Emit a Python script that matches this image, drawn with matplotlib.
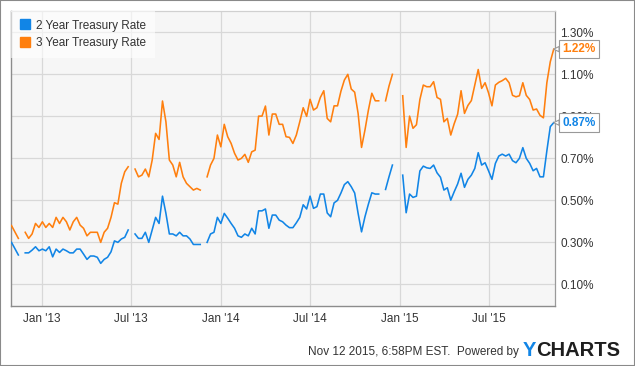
import matplotlib
matplotlib.use('Agg')
import matplotlib.pyplot as plt
import numpy as np
import pandas as pd
from matplotlib.lines import Line2D
from matplotlib.patches import Rectangle

nan = np.nan

# ---------------- data (weekly) ----------------
start_date = '2012-10-31'

series_names = ['2 Year Treasury Rate', '3 Year Treasury Rate']

two_year = [
    0.30, 0.27, 0.24, nan,
    0.25, 0.25, 0.263, 0.279, 0.26, 0.268, 0.26, 0.279, 0.231, 0.268,
    0.252, 0.268, 0.26, 0.25, 0.25, 0.268, 0.268, 0.244, 0.219, 0.235,
    0.235, 0.229, 0.20, 0.219, 0.229, 0.255, 0.307, 0.30, 0.316, 0.324, 0.359,
    nan,
    0.34, 0.319, 0.319, 0.348, 0.30, 0.359, 0.419, 0.39, 0.52, 0.438,
    0.34, 0.34, 0.331, 0.348, 0.331, 0.331, 0.316, 0.29, 0.29, 0.29,
    nan,
    0.30, 0.34, 0.348, 0.419, 0.39, 0.438, 0.415, 0.39, 0.367, 0.331,
    0.324, 0.34, 0.331, 0.367, 0.34, 0.45, 0.45, 0.459, 0.367, 0.43,
    0.43, 0.406, 0.398, 0.382, 0.37, 0.37, 0.393, 0.419, 0.479, 0.459,
    0.52, 0.462, 0.47, 0.53, 0.53, 0.44, 0.422, 0.488, 0.50, 0.535,
    0.575, 0.589, 0.565, 0.535, 0.438, 0.35, 0.422, 0.482, 0.536, 0.53, 0.53,
    nan,
    0.552, 0.612, 0.668,
    nan, nan,
    0.62, 0.441, 0.53, 0.514, 0.52, 0.64, 0.663, 0.655, 0.652, 0.668,
    0.631, 0.61, 0.549, 0.56, 0.501, 0.541, 0.578, 0.629, 0.562, 0.60,
    0.62, 0.652, 0.727, 0.668, 0.679, 0.641, 0.60, 0.676, 0.711, 0.72,
    0.711, 0.72, 0.689, 0.679, 0.70, 0.751, 0.70, 0.676, 0.641, 0.652,
    0.612, 0.612, 0.736, 0.851, 0.87,
]

three_year = [
    0.38, 0.35, 0.319, nan,
    0.348, 0.319, 0.34, 0.39, 0.371, 0.398, 0.371, 0.39, 0.371, 0.419,
    0.39, 0.419, 0.398, 0.359, 0.398, 0.419, 0.382, 0.367, 0.331, 0.348,
    0.348, 0.348, 0.30, 0.348, 0.367, 0.419, 0.489, 0.482, 0.581, 0.636, 0.66,
    nan,
    0.649, 0.612, 0.62, 0.649, 0.612, 0.692, 0.819, 0.79, 0.973, 0.874,
    0.692, 0.668, 0.612, 0.681, 0.612, 0.581, 0.565, 0.549, 0.557, 0.549,
    nan,
    0.612, 0.668, 0.70, 0.811, 0.755, 0.862, 0.803, 0.771, 0.724, 0.692,
    0.70, 0.719, 0.681, 0.731, 0.739, 0.901, 0.901, 0.949, 0.811, 0.911,
    0.911, 0.862, 0.862, 0.803, 0.80, 0.771, 0.811, 0.874, 0.941, 0.90,
    0.981, 0.93, 0.941, 0.99, 1.022, 0.89, 0.874, 0.95, 0.95, 1.02,
    1.073, 1.10, 1.03, 1.015, 0.914, 0.752, 0.835, 0.93, 1.01, 0.974, 0.974,
    nan,
    0.974, 1.044, 1.10,
    nan, nan,
    0.998, 0.752, 0.901, 0.843, 0.86, 0.98, 1.049, 1.041, 1.041, 1.065,
    0.99, 0.981, 0.874, 0.89, 0.811, 0.865, 0.91, 1.022, 0.914, 0.952,
    0.975, 1.05, 1.123, 1.033, 1.06, 1.012, 0.95, 1.049, 1.062, 1.07,
    1.081, 1.06, 1.0, 0.993, 0.998, 1.06, 1.0, 0.98, 0.93, 0.935,
    0.905, 0.893, 1.06, 1.16, 1.22,
]

y_ticks = [0.10, 0.30, 0.50, 0.70, 0.90, 1.10, 1.30]
x_tick_dates = ['2013-01-01', '2013-07-01', '2014-01-01', '2014-07-01',
                '2015-01-01', '2015-07-01']
x_tick_labels = ["Jan '13", "Jul '13", "Jan '14", "Jul '14", "Jan '15", "Jul '15"]
footer_text = 'Nov 12 2015, 6:58PM EST.  Powered by'

dates = pd.date_range(start_date, periods=len(two_year), freq='7D')

# ---------------- styling ----------------
BLUE = '#1185e6'
ORANGE = '#ff7f0e'
TEXT = '#333333'
FS = 8.5

plt.rcParams['font.family'] = ['Liberation Sans', 'DejaVu Sans']

fig = plt.figure(figsize=(6.35, 3.66), dpi=100)
fig.patch.set_facecolor('white')
ax = fig.add_axes([11 / 635, 1 - 306 / 366, (554.7 - 11) / 635, (306 - 10.7) / 366])
ax.set_facecolor('#f6f6f6')

ax.plot(dates, two_year, color=BLUE, lw=1.15, zorder=3)
ax.plot(dates, three_year, color=ORANGE, lw=1.15, zorder=3)

ax.set_xlim(pd.Timestamp('2012-10-30'), pd.Timestamp('2015-11-13'))
ax.set_ylim(-0.003, 1.403)

ax.set_yticks(y_ticks)
ax.set_yticklabels([f'{v:.2f}%' for v in y_ticks])
ax.yaxis.tick_right()
ax.set_xticks(pd.to_datetime(x_tick_dates))
ax.set_xticklabels(x_tick_labels)
ax.tick_params(axis='both', length=0, labelsize=FS, labelcolor=TEXT)
ax.tick_params(axis='y', pad=4)
ax.tick_params(axis='x', pad=5)

ax.grid(True, color='#d8d8d8', lw=0.9)
ax.set_axisbelow(True)
for side in ['left', 'bottom']:
    ax.spines[side].set_color('#8c8c8c')
    ax.spines[side].set_linewidth(1.0)
ax.spines['right'].set_color('#9a9a9a')
ax.spines['right'].set_linewidth(0.9)
ax.spines['top'].set_color('#d0d0d0')
ax.spines['top'].set_linewidth(0.9)

# legend
handles = [Line2D([], [], marker='s', ls='none', color=BLUE, markersize=6.5),
           Line2D([], [], marker='s', ls='none', color=ORANGE, markersize=6.5)]
leg = ax.legend(handles, series_names, loc='upper left', bbox_to_anchor=(0, 1),
                borderaxespad=0, frameon=True, fancybox=False, framealpha=0.6,
                edgecolor='none', facecolor='white', fontsize=FS,
                handlelength=0.8, handletextpad=0.6, borderpad=0.75,
                labelspacing=0.45)
for t in leg.get_texts():
    t.set_color(TEXT)

# end-value labels
for vals, col in [(three_year, ORANGE), (two_year, BLUE)]:
    v = vals[-1]
    ax.annotate(f'{v:.2f}%', xy=(dates[-1], v), xytext=(6.5, 0),
                textcoords='offset points', ha='left', va='center',
                fontsize=FS, fontweight='bold', color=col,
                bbox=dict(boxstyle='square,pad=0.28', fc='white', ec='#999999', lw=0.8),
                arrowprops=dict(arrowstyle='wedge,tail_width=0.45', fc='white',
                                ec='#999999', lw=0.8, shrinkA=0, shrinkB=0),
                annotation_clip=False, zorder=5)

# footer
fig.text(519 / 635, 1 - 352.5 / 366, footer_text, ha='right', va='center',
         fontsize=FS, color=TEXT)
ylogo = fig.text(523 / 635, 1 - 350 / 366, 'Y', ha='left', va='center',
                 fontsize=14.5, fontweight='bold', color=BLUE)
plt.annotate('CHARTS', xy=(1, 0.5), xycoords=ylogo, ha='left', va='center',
             fontsize=14.5, fontweight='bold', color='#1e1e1e',
             annotation_clip=False)

# outer frame
fig.add_artist(Rectangle((0, 0), 1, 1, transform=fig.transFigure, fill=False,
                         ec='#8a8a8a', lw=1.5))

fig.savefig('out.png', dpi=100)
